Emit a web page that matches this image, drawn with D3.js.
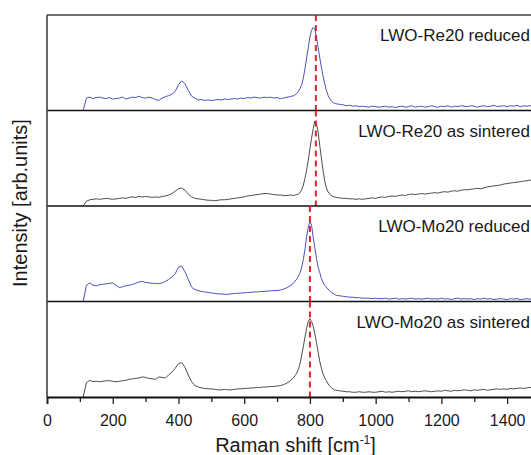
<!DOCTYPE html>
<html>
<head>
<meta charset="utf-8">
<script src="https://cdn.jsdelivr.net/npm/d3@7"></script>
<style>
  body { margin: 0; background: #fff; }
  svg { display: block; }
  text { font-family: "Liberation Sans", Arial, Helvetica, sans-serif; fill: #1a1a1a; }
</style>
</head>
<body>
<svg id="chart" width="531" height="455"></svg>
<script>
// Raman shift sampling grid (cm^-1): finer steps across the W–O stretching band
const shift = [...d3.range(110, 750, 10), ...d3.range(750, 880, 5), ...d3.range(880, 1501, 10)];

// Intensities (arb. units, 0–100 per panel)
const reReduced = [
  0, 13, 14, 12.5, 13.5, 14, 13, 12.5, 13.5, 12,
  12.5, 13, 14, 12, 13, 14, 13.5, 15, 13.5, 13,
  14, 13, 11.5, 10.5, 13, 14.5, 15.5, 17, 20, 27,
  31, 28, 21, 15, 13, 11, 11.5, 10.5, 11, 10.5,
  11, 11.5, 11, 12, 11.5, 12, 12.5, 12, 13, 12.5,
  13.5, 13, 14, 13.5, 13, 14, 13.5, 14, 13, 13.5,
  12.5, 13, 14, 14.5,
  15.5, 16.5, 18, 20, 23, 27, 34, 44, 55, 66,
  77, 84, 87, 85, 77, 66, 55, 45, 36, 28,
  21, 16, 12.5, 10, 8.5, 7.5,
  7, 6.5, 6, 5, 5.5, 4.5, 5, 4, 4.5, 4,
  3.5, 4.5, 4, 3.5, 4, 4.5, 3.5, 4, 3, 4,
  4.5, 3.5, 4, 5, 3.5, 4, 4.5, 3.5, 4, 5,
  4, 3.5, 4.5, 4, 5, 3.5, 4.5, 4, 5, 4.5,
  4, 5, 4.5, 3.5, 4.5, 5, 4, 4.5, 5.5, 4,
  4.5, 5, 4, 5, 4.5, 5.5, 4, 5, 4.5, 5,
  4.5, 5, 4.5
];

const reSintered = [
  0, 5, 6.5, 7, 7.5, 7, 7.5, 8, 7.5, 7,
  7.5, 8, 8.5, 8, 9, 9.5, 9, 10, 9.5, 10,
  9.5, 9, 9.5, 9, 10, 10.5, 11.5, 13, 15.5, 18,
  19, 16.5, 12.5, 9.5, 8, 7.5, 7, 6.5, 6, 6,
  5.5, 6, 6.5, 6.5, 7, 7.5, 8, 8.5, 9, 9.5,
  10.5, 11, 11.5, 12, 12.5, 13, 13, 12.5, 12, 11.5,
  11.5, 11, 11, 11.5,
  11, 11.5, 12, 12.5, 14, 17, 22, 29, 38, 48,
  60, 71, 81, 89, 86, 77, 63, 50, 37, 26,
  19, 15, 12.5, 11, 10, 9.5,
  9, 8.5, 8, 8, 7.5, 7.5, 7, 7.5, 7, 7.5,
  8, 8.5, 8, 9, 9.5, 9, 10, 10.5, 10, 11,
  11.5, 11, 12, 12.5, 12, 12.5, 13, 12.5, 13, 13.5,
  14, 13.5, 14.5, 15, 14.5, 15.5, 16, 15.5, 16.5, 17,
  17, 17.5, 18, 18.5, 18, 19, 20, 20.5, 21, 21.5,
  22, 23, 23.5, 24, 24.5, 25, 25.5, 26, 26.5, 27,
  27.5, 28, 28.5
];

const moReduced = [
  0, 17, 19.5, 17, 16.5, 17.5, 18, 18.5, 19, 19.5,
  17, 14.5, 15.5, 16.5, 17, 18, 19, 20.5, 21, 20,
  19.5, 19, 19, 18.5, 19.5, 21, 23, 25.5, 29, 36,
  37, 31, 23, 15, 12.5, 11.5, 10.5, 10, 9.5, 9,
  8.5, 8, 8, 7.5, 7.5, 8, 8.5, 8.5, 9, 9,
  9.5, 9.5, 10, 10, 10.5, 10.5, 11, 11, 11.5, 11.5,
  12, 13, 14.5, 16.5,
  19, 21.5, 23.5, 26.5, 30, 36, 44, 55, 68, 78,
  84, 80, 67, 56, 45, 36, 30, 24, 20, 17,
  15, 13, 11, 9.5, 8.5, 7.5,
  6.5, 6, 5.5, 5, 4.5, 4.5, 4, 4, 3.5, 3.5,
  3.5, 3, 3.5, 3, 3, 3.5, 2.5, 3, 3.5, 2.5,
  3, 2.5, 3, 3.5, 2.5, 3, 2.5, 3, 3.5, 2.5,
  3, 2.5, 3.5, 2.5, 3, 2, 3, 3.5, 2.5, 3,
  2.5, 3, 2, 3, 2.5, 3.5, 2.5, 3, 2, 2.5,
  3, 2.5, 2, 3, 2.5, 3, 2, 2.5, 3, 2.5,
  2, 2.5, 3
];

const moSintered = [
  0, 15, 17.5, 16, 16.5, 16, 16.5, 17, 17, 16.5,
  16, 16.5, 17, 17.5, 18.5, 19, 19.5, 20, 21, 20.5,
  19.5, 19, 18.5, 21, 20.5, 20, 23, 26, 30, 35,
  36, 31, 23, 16, 12, 10.5, 9.5, 9, 8.5, 8.5,
  8, 7.5, 7.5, 8, 7.5, 7.5, 8, 8.5, 8.5, 9,
  9, 9.5, 9.5, 10, 10, 10.5, 10.5, 11, 11, 11.5,
  12, 13, 14.5, 17,
  20, 22.5, 25, 29, 35, 44, 53, 63, 72, 79,
  82, 79, 74, 66, 57, 47, 37, 30, 24, 20,
  17, 14, 11.5, 10, 8.5, 7.5,
  7, 6.5, 6, 5.5, 5.5, 5, 5, 5.5, 5, 5,
  5.5, 5, 5, 5.5, 6, 5, 5.5, 5, 5.5, 6,
  5.5, 6, 6.5, 5.5, 6, 5.5, 6, 6.5, 6, 5.5,
  6, 6.5, 6, 7, 6.5, 6, 7, 6.5, 7, 7.5,
  7, 6.5, 7.5, 7, 7.5, 8, 7, 7.5, 8, 8.5,
  8, 8.5, 8, 9, 8.5, 9, 9.5, 9, 9.5, 10,
  9.5, 10, 10
];

const panelNames = ["LWO-Re20 reduced", "LWO-Re20 as sintered", "LWO-Mo20 reduced", "LWO-Mo20 as sintered"];
const panelSeries = [reReduced, reSintered, moReduced, moSintered];
const panelColors = ["#4f4fc4", "#4d4d4d", "#4f4fc4", "#4d4d4d"];
// Position of the main W–O band marker in each panel (cm^-1)
const bandMarks = [818, 818, 800, 800];

const majorTicks = [0, 200, 400, 600, 800, 1000, 1200, 1400];
const minorTicks = [100, 300, 500, 700, 900, 1100, 1300, 1500];

// Layout
const plotLeft = 47, plotRight = 540, plotTop = 15, plotBottom = 397;
const panelH = (plotBottom - plotTop) / panelSeries.length;

const svg = d3.select("#chart");
const x = d3.scaleLinear().domain([0, 1500]).range([plotLeft, plotRight]);

panelSeries.forEach((vals, i) => {
  const pTop = plotTop + i * panelH, pBot = pTop + panelH;
  const y = d3.scaleLinear().domain([0, 100]).range([pBot, pTop]);
  const g = svg.append("g");

  const line = d3.line().x((d, k) => x(shift[k])).y(d => y(d));
  g.append("path")
    .datum(vals)
    .attr("d", line)
    .attr("fill", "none")
    .attr("stroke", panelColors[i])
    .attr("stroke-width", 1)
    .attr("stroke-linejoin", "round");

  g.append("line")
    .attr("x1", x(bandMarks[i])).attr("x2", x(bandMarks[i]))
    .attr("y1", pTop).attr("y2", pBot)
    .attr("stroke", "#d8262b")
    .attr("stroke-width", 2)
    .attr("stroke-dasharray", "6,4");

  g.append("text")
    .attr("x", 530)
    .attr("y", pTop + 26)
    .attr("text-anchor", "end")
    .style("font-size", "17px")
    .text(panelNames[i]);

  // panel separator / baseline
  if (i < panelSeries.length - 1) {
    g.append("line")
      .attr("x1", plotLeft).attr("x2", plotRight)
      .attr("y1", pBot).attr("y2", pBot)
      .attr("stroke", "#111").attr("stroke-width", 1.6);
  }
});

// Frame: top and left edges
svg.append("line").attr("x1", plotLeft).attr("x2", plotRight).attr("y1", plotTop).attr("y2", plotTop)
  .attr("stroke", "#444").attr("stroke-width", 1.6);
svg.append("line").attr("x1", plotLeft).attr("x2", plotLeft).attr("y1", plotTop).attr("y2", plotBottom)
  .attr("stroke", "#444").attr("stroke-width", 1.6);

// Bottom axis with major and minor ticks
const axisG = svg.append("g").attr("transform", `translate(0,${plotBottom})`);
axisG.call(d3.axisBottom(x).tickValues(minorTicks).tickSize(5).tickFormat(""))
  .call(g => g.select(".domain").remove())
  .call(g => g.selectAll(".tick line").attr("stroke", "#222").attr("stroke-width", 1.3));
const majorG = svg.append("g").attr("transform", `translate(0,${plotBottom})`);
majorG.call(d3.axisBottom(x).tickValues(majorTicks).tickSize(7).tickPadding(11).tickFormat(d3.format("d")))
  .call(g => g.select(".domain").attr("stroke", "#111").attr("stroke-width", 1.8))
  .call(g => g.selectAll(".tick line").attr("stroke", "#222").attr("stroke-width", 1.3))
  .call(g => g.selectAll(".tick text").style("font-size", "16px").attr("fill", "#1a1a1a")
    .style("font-family", "'Liberation Sans', Arial, sans-serif"));

// Axis titles
const xt = svg.append("text")
  .attr("x", (plotLeft + plotRight) / 2 + 2)
  .attr("y", 452)
  .attr("text-anchor", "middle")
  .style("font-size", "20px");
xt.append("tspan").text("Raman shift [cm");
xt.append("tspan").attr("dy", -8).style("font-size", "12px").text("-1");
xt.append("tspan").attr("dy", 8).text("]");

svg.append("text")
  .attr("transform", `translate(27,${(plotTop + plotBottom) / 2 - 3}) rotate(-90)`)
  .attr("text-anchor", "middle")
  .style("font-size", "20px")
  .text("Intensity [arb.units]");
</script>
</body>
</html>
